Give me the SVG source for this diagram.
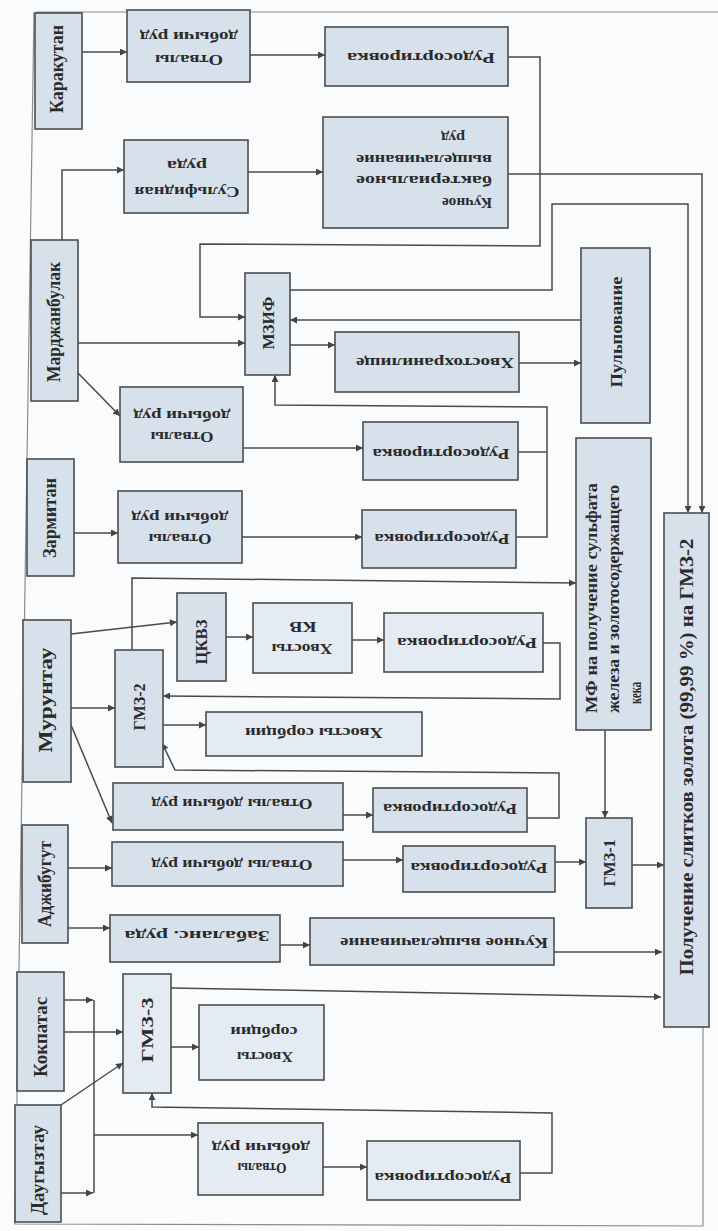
<svg xmlns="http://www.w3.org/2000/svg" width="718" height="1231" viewBox="0 0 718 1231">
<defs>
<style>
.box{fill:#d7e1ec;stroke:#4d4d4d;stroke-width:1.6}
.lt{fill:#e4ebf3}
.t{font-family:"Liberation Serif","Times New Roman",serif;font-weight:bold;fill:#2b2b2b;dominant-baseline:central;text-anchor:middle}
.s{text-anchor:start}
.h{font-size:15px}
.v{font-size:18px}
.m{font-size:16px}
.c{fill:none;stroke:#4a4a4a;stroke-width:1.5}
.a{marker-end:url(#ah)}
.frame{fill:none;stroke:#8c8c8c;stroke-width:1.2}
</style>
<marker id="ah" viewBox="0 0 10 10" refX="10" refY="5" markerWidth="9" markerHeight="7" orient="auto" markerUnits="userSpaceOnUse">
<path d="M0,0 L10,5 L0,10 z" fill="#444"/>
</marker>
</defs>
<rect width="718" height="1231" fill="#fafbfc"/>
<path class="frame" d="M36,12 L718,12 M34,12 L15,1224 L703,1226 L703,1027"/>

<!-- connectors -->
<g id="connectors">
<path class="c a" d="M82,52 H127"/>
<path class="c a" d="M250,55 H325"/>
<path class="c a" d="M508,57 H540 V246 L200,244 V317 H245"/>
<path class="c a" d="M62,240 V170 H124"/>
<path class="c a" d="M248,172 H323"/>
<path class="c a" d="M508,174 H702 V513"/>
<path class="c a" d="M290,290 H552 V204 H688 V513"/>
<path class="c a" d="M581,320 H290"/>
<path class="c a" d="M78,343 H245"/>
<path class="c a" d="M290,345 H335"/>
<path class="c a" d="M519,363 H581"/>
<path class="c a" d="M77,372 L120,416"/>
<path class="c a" d="M243,448 H363"/>
<path class="c" d="M518,452 H547"/>
<path class="c a" d="M516,537 H547 V407 L275,405 V375"/>
<path class="c a" d="M74,533 H118"/>
<path class="c a" d="M242,537 H362"/>
<path class="c a" d="M132,650 V578 L576,583"/>
<path class="c a" d="M71,634 L177,622"/>
<path class="c a" d="M226,637 H253"/>
<path class="c a" d="M352,640 H384"/>
<path class="c a" d="M543,643 H560 V699 L163,696"/>
<path class="c a" d="M71,708 H115"/>
<path class="c a" d="M163,725 H206"/>
<path class="c a" d="M527,818 H559 V773 L175,770 L162,743"/>
<path class="c a" d="M71,725 L112,823"/>
<path class="c a" d="M343,815 H373"/>
<path class="c a" d="M68,868 H112"/>
<path class="c a" d="M343,860 H403"/>
<path class="c a" d="M555,862 H586"/>
<path class="c a" d="M605,730 V818"/>
<path class="c a" d="M632,865 H664"/>
<path class="c a" d="M66,928 H110"/>
<path class="c a" d="M280,945 H310"/>
<path class="c a" d="M554,952 H662"/>
<path class="c a" d="M171,988 L661,997"/>
<path class="c a" d="M64,1000 H93"/>
<path class="c a" d="M61,1193 H93"/>
<path class="c" d="M94,1000 V1193"/>
<path class="c a" d="M94,1135 H198"/>
<path class="c a" d="M64,1032 H123"/>
<path class="c a" d="M61,1105 L123,1063"/>
<path class="c a" d="M171,1047 H199"/>
<path class="c a" d="M323,1167 H367"/>
<path class="c a" d="M520,1173 H552 V1113 L152,1107 V1093"/>
</g>

<!-- sources -->
<g id="karakutan"><rect class="box" x="35" y="13" width="47" height="116"/><text class="t v" transform="translate(57,69) rotate(-90)" textLength="88" lengthAdjust="spacingAndGlyphs">Каракутан</text></g>
<g id="mardzhanbulak"><rect class="box" x="31" y="240" width="47" height="161"/><text class="t v" transform="translate(54,322) rotate(-90)" textLength="120" lengthAdjust="spacingAndGlyphs">Марджанбулак</text></g>
<g id="zarmitan"><rect class="box" x="27" y="459" width="47" height="117"/><text class="t v" transform="translate(50,518) rotate(-90)" textLength="80" lengthAdjust="spacingAndGlyphs">Зармитан</text></g>
<g id="muruntau"><rect class="box" x="23" y="620" width="48" height="162"/><text class="t v" transform="translate(46,700) rotate(-90)" textLength="105" lengthAdjust="spacingAndGlyphs">Мурунтау</text></g>
<g id="adzhibugut"><rect class="box" x="22" y="825" width="46" height="118"/><text class="t v" transform="translate(45,884) rotate(-90)" textLength="86" lengthAdjust="spacingAndGlyphs">Аджибугут</text></g>
<g id="kokpatas"><rect class="box" x="17" y="972" width="47" height="119"/><text class="t v" transform="translate(41,1037) rotate(-90)" textLength="80" lengthAdjust="spacingAndGlyphs">Кокпатас</text></g>
<g id="daugyztau"><rect class="box" x="15" y="1105" width="46" height="117"/><text class="t v" transform="translate(38,1170) rotate(-90)" textLength="90" lengthAdjust="spacingAndGlyphs">Даугызтау</text></g>

<!-- Каракутан row -->
<g id="otvaly-k"><rect class="box" x="127" y="10" width="123" height="72"/>
<text class="t h" transform="translate(189,60) rotate(180)" textLength="68" lengthAdjust="spacingAndGlyphs">Отвалы</text>
<text class="t h" transform="translate(189,37) rotate(180)" textLength="98" lengthAdjust="spacingAndGlyphs">добычи руд</text></g>
<g id="rudosort-k"><rect class="box" x="325" y="27" width="183" height="59"/><text class="t h" transform="translate(421,58) rotate(180)" textLength="148" lengthAdjust="spacingAndGlyphs">Рудосортировка</text></g>

<!-- Марджанбулак -->
<g id="sulfid"><rect class="box" x="124" y="140" width="124" height="73"/>
<text class="t h" transform="translate(187,192) rotate(180)" textLength="105" lengthAdjust="spacingAndGlyphs">Сульфидная</text>
<text class="t h" transform="translate(187,166) rotate(180)" textLength="40" lengthAdjust="spacingAndGlyphs">руда</text></g>
<g id="kuchnoe-bakt"><rect class="box" x="323" y="117" width="185" height="111"/>
<text class="t h s" transform="translate(492,203) rotate(180)" textLength="50" lengthAdjust="spacingAndGlyphs">Кучное</text>
<text class="t h s" transform="translate(492,181) rotate(180)" textLength="136" lengthAdjust="spacingAndGlyphs">бактериальное</text>
<text class="t h s" transform="translate(492,160) rotate(180)" textLength="136" lengthAdjust="spacingAndGlyphs">выщелачивание</text>
<text class="t h s" transform="translate(465,138) rotate(180)" textLength="24" lengthAdjust="spacingAndGlyphs">руд</text></g>
<g id="mzif"><rect class="box" x="245" y="273" width="45" height="102"/><text class="t m" transform="translate(268,323) rotate(-90)" textLength="53" lengthAdjust="spacingAndGlyphs">МЗИФ</text></g>
<g id="hvostohran"><rect class="box" x="335" y="332" width="184" height="60"/><text class="t h s" transform="translate(514,363) rotate(180)" textLength="158" lengthAdjust="spacingAndGlyphs">Хвостохранилище</text></g>
<g id="pulpovanie"><rect class="box" x="581" y="248" width="69" height="175"/><text class="t m" transform="translate(616,332) rotate(-90)" textLength="111" lengthAdjust="spacingAndGlyphs">Пульпование</text></g>
<g id="otvaly-m"><rect class="box" x="120" y="387" width="123" height="75"/>
<text class="t h" transform="translate(182,437) rotate(180)" textLength="63" lengthAdjust="spacingAndGlyphs">Отвалы</text>
<text class="t h" transform="translate(182,416) rotate(180)" textLength="97" lengthAdjust="spacingAndGlyphs">добычи руд</text></g>
<g id="rudosort-m"><rect class="box" x="363" y="422" width="155" height="58"/><text class="t h" transform="translate(441,454) rotate(180)" textLength="137" lengthAdjust="spacingAndGlyphs">Рудосортировка</text></g>

<!-- Зармитан -->
<g id="otvaly-z"><rect class="box" x="118" y="491" width="124" height="72"/>
<text class="t h" transform="translate(180,539) rotate(180)" textLength="63" lengthAdjust="spacingAndGlyphs">Отвалы</text>
<text class="t h" transform="translate(180,518) rotate(180)" textLength="97" lengthAdjust="spacingAndGlyphs">добычи руд</text></g>
<g id="rudosort-z"><rect class="box" x="362" y="510" width="154" height="58"/><text class="t h" transform="translate(442,539) rotate(180)" textLength="135" lengthAdjust="spacingAndGlyphs">Рудосортировка</text></g>
<g id="mf"><rect class="box" x="576" y="438" width="75" height="292"/>
<text class="t m s" transform="translate(591,713) rotate(-90)" textLength="230" lengthAdjust="spacingAndGlyphs">МФ на получение сульфата</text>
<text class="t m s" transform="translate(613,713) rotate(-90)" textLength="228" lengthAdjust="spacingAndGlyphs">железа и золотосодержащего</text>
<text class="t m s" transform="translate(635,704) rotate(-90)" textLength="22" lengthAdjust="spacingAndGlyphs">кека</text></g>

<!-- Мурунтау -->
<g id="ckvz"><rect class="box" x="177" y="593" width="49" height="88"/><text class="t m" transform="translate(201,642) rotate(-90)" textLength="45" lengthAdjust="spacingAndGlyphs">ЦКВЗ</text></g>
<g id="hvosty-kv"><rect class="box lt" x="253" y="603" width="99" height="70"/>
<text class="t h" transform="translate(302,649) rotate(180)" textLength="61" lengthAdjust="spacingAndGlyphs">Хвосты</text>
<text class="t h" transform="translate(303,627) rotate(180)" textLength="27" lengthAdjust="spacingAndGlyphs">КВ</text></g>
<g id="rudosort-mu1"><rect class="box lt" x="384" y="613" width="159" height="59"/><text class="t h" transform="translate(467,643) rotate(180)" textLength="140" lengthAdjust="spacingAndGlyphs">Рудосортировка</text></g>
<g id="gmz2"><rect class="box" x="115" y="650" width="48" height="117"/><text class="t m" transform="translate(139,707) rotate(-90)" textLength="47" lengthAdjust="spacingAndGlyphs">ГМЗ-2</text></g>
<g id="hvosty-sorb-mu"><rect class="box lt" x="206" y="712" width="216" height="44"/><text class="t h" transform="translate(314,733) rotate(180)" textLength="138" lengthAdjust="spacingAndGlyphs">Хвосты сорбции</text></g>
<g id="otvaly-mu"><rect class="box" x="113" y="783" width="230" height="47"/><text class="t h" transform="translate(232,804) rotate(180)" textLength="161" lengthAdjust="spacingAndGlyphs">Отвалы добычи руд</text></g>
<g id="rudosort-mu2"><rect class="box" x="373" y="788" width="154" height="44"/><text class="t h" transform="translate(450,809) rotate(180)" textLength="134" lengthAdjust="spacingAndGlyphs">Рудосортировка</text></g>

<!-- Аджибугут -->
<g id="otvaly-a"><rect class="box" x="112" y="842" width="231" height="44"/><text class="t h" transform="translate(232,865) rotate(180)" textLength="161" lengthAdjust="spacingAndGlyphs">Отвалы добычи руд</text></g>
<g id="rudosort-a"><rect class="box" x="403" y="846" width="152" height="46"/><text class="t h" transform="translate(479,868) rotate(180)" textLength="137" lengthAdjust="spacingAndGlyphs">Рудосортировка</text></g>
<g id="gmz1"><rect class="box" x="586" y="818" width="46" height="90"/><text class="t m" transform="translate(609,863) rotate(-90)" textLength="47" lengthAdjust="spacingAndGlyphs">ГМЗ-1</text></g>
<g id="zabalans"><rect class="box" x="110" y="915" width="170" height="47"/><text class="t h" transform="translate(197,936) rotate(180)" textLength="145" lengthAdjust="spacingAndGlyphs">Забаланс. руда</text></g>
<g id="kuchnoe-vysh"><rect class="box" x="310" y="918" width="244" height="47"/><text class="t h s" transform="translate(548,943) rotate(180)" textLength="208" lengthAdjust="spacingAndGlyphs">Кучное выщелачивание</text></g>
<g id="poluchenie"><rect class="box" x="664" y="513" width="45" height="514"/><text class="t v" transform="translate(687,757) rotate(-90)" textLength="437" lengthAdjust="spacingAndGlyphs">Получение слитков золота (99,99 %) на ГМЗ-2</text></g>

<!-- Кокпатас / Даугызтау -->
<g id="gmz3"><rect class="box lt" x="123" y="974" width="48" height="119"/><text class="t m" transform="translate(147,1030) rotate(-90)" textLength="65" lengthAdjust="spacingAndGlyphs">ГМЗ-3</text></g>
<g id="hvosty-sorb-k"><rect class="box lt" x="199" y="1005" width="125" height="75"/>
<text class="t h" transform="translate(265,1057) rotate(180)" textLength="56" lengthAdjust="spacingAndGlyphs">Хвосты</text>
<text class="t h" transform="translate(264,1032) rotate(180)" textLength="67" lengthAdjust="spacingAndGlyphs">сорбции</text></g>
<g id="otvaly-d"><rect class="box lt" x="198" y="1123" width="125" height="72"/>
<text class="t h" transform="translate(262,1168) rotate(180)" textLength="49" lengthAdjust="spacingAndGlyphs">Отвалы</text>
<text class="t h" transform="translate(261,1148) rotate(180)" textLength="98" lengthAdjust="spacingAndGlyphs">добычи руд</text></g>
<g id="rudosort-d"><rect class="box lt" x="367" y="1141" width="153" height="59"/><text class="t h" transform="translate(443,1178) rotate(180)" textLength="137" lengthAdjust="spacingAndGlyphs">Рудосортировка</text></g>
</svg>
